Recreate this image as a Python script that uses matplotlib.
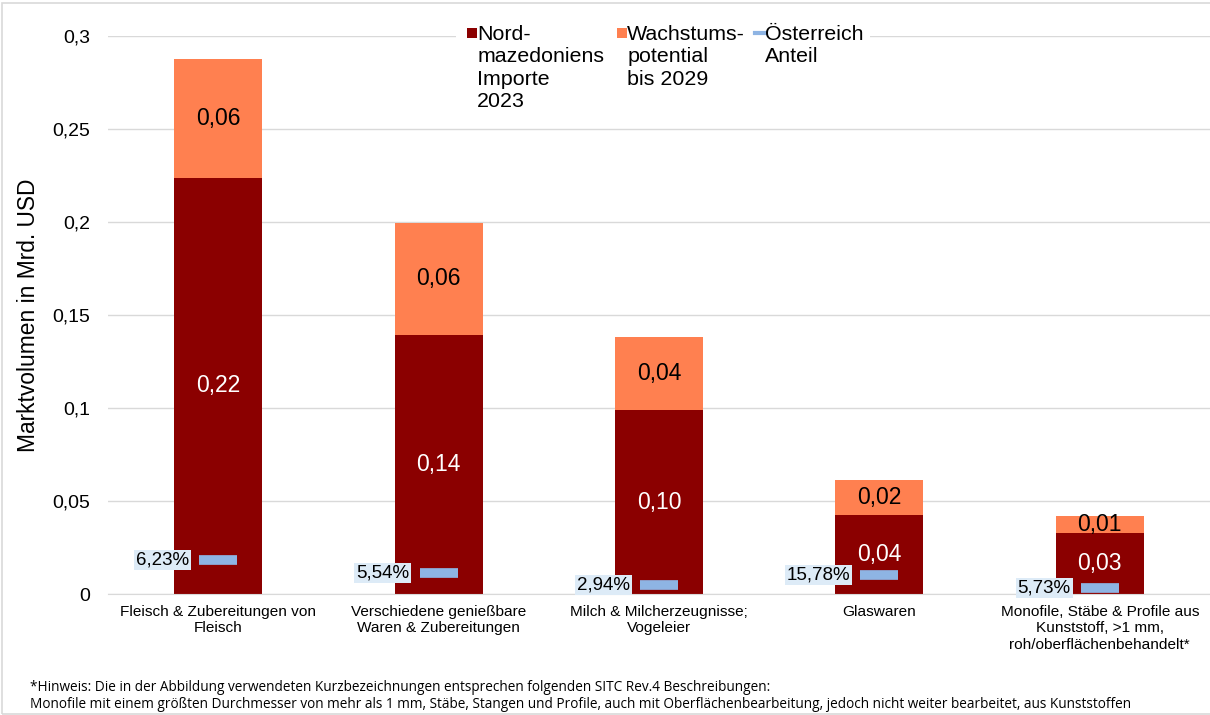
import matplotlib.pyplot as plt
from matplotlib.patches import Rectangle
from matplotlib.lines import Line2D

plt.rcParams['font.family'] = ['Liberation Sans', 'DejaVu Sans']

categories = ['Fleisch & Zubereitungen von\nFleisch',
              'Verschiedene genießbare\nWaren & Zubereitungen',
              'Milch & Milcherzeugnisse;\nVogeleier',
              'Glaswaren',
              'Monofile, Stäbe & Profile aus\nKunststoff, >1 mm,\nroh/oberflächenbehandelt*']
importe = [0.2237, 0.1392, 0.0989, 0.0425, 0.0328]
wachstum = [0.0639, 0.0603, 0.0393, 0.0188, 0.0091]
importe_labels = ['0,22', '0,14', '0,10', '0,04', '0,03']
wachstum_labels = ['0,06', '0,06', '0,04', '0,02', '0,01']
at_anteil = [0.0183, 0.0113, 0.0048, 0.0102, 0.0032]
at_labels = ['6,23%', '5,54%', '2,94%', '15,78%', '5,73%']
yticks = [0, 0.05, 0.1, 0.15, 0.2, 0.25, 0.3]
ytick_labels = ['0', '0,05', '0,1', '0,15', '0,2', '0,25', '0,3']

c_imp = '#8B0000'
c_wachs = '#FF8050'
c_at = '#8EB4E3'

fig = plt.figure(figsize=(12.1, 7.15), dpi=100)
ax = fig.add_axes([0.0893, 0.1692, 0.9107, 0.7805])

x = list(range(len(categories)))
ax.bar(x, importe, width=0.4, color=c_imp, zorder=2)
ax.bar(x, wachstum, width=0.4, bottom=importe, color=c_wachs, zorder=2)

for i in x:
    ax.text(i, importe[i] / 2, importe_labels[i], ha='center', va='center',
            color='white', fontsize=16.5, zorder=4)
    ax.text(i, importe[i] + wachstum[i] / 2, wachstum_labels[i], ha='center',
            va='center', color='black', fontsize=16.5, zorder=4)

ax.plot(x, at_anteil, linestyle='none', marker='_', markersize=28,
        markeredgewidth=7, color=c_at, zorder=3)
for i in x:
    ax.annotate(at_labels[i], (i, at_anteil[i]), xytext=(-21, 0),
                textcoords='offset points', ha='right', va='center',
                fontsize=13.5, zorder=5,
                bbox=dict(boxstyle='square,pad=0.1', fc='#DDEBF7', ec='none'))

ax.set_xlim(-0.5, 4.5)
ax.set_ylim(0, 0.3)
ax.set_yticks(yticks)
ax.set_yticklabels(ytick_labels, fontsize=14)
ax.set_xticks(x)
ax.set_xticklabels(categories, fontsize=11.1)
ax.tick_params(axis='both', length=0, pad=8)
ax.tick_params(axis='y', pad=13)
ax.grid(axis='y', color='#D9D9D9', linewidth=1, zorder=0)
for s in ['top', 'right', 'left']:
    ax.spines[s].set_visible(False)
ax.spines['bottom'].set_color('#D9D9D9')
ax.set_ylabel('Marktvolumen in Mrd. USD', fontsize=16.4, labelpad=9)

# legend drawn by hand so the handles sit on the first text line
leg_font = 15.4
entries = [(0.3860, 'Nord-\nmazedoniens\nImporte\n2023', 'box', c_imp),
           (0.5099, 'Wachstums-\npotential\nbis 2029', 'box', c_wachs),
           (0.6240, 'Österreich\nAnteil', 'line', c_at)]
# white area behind the legend hides the top gridline there
fig.patches.append(Rectangle((0.377, 0.83), 0.342, 0.15, transform=fig.transFigure,
                             fc='white', ec='none', zorder=4))
for xh, lab, kind, col in entries:
    if kind == 'box':
        fig.patches.append(Rectangle((xh, 0.947), 0.0083, 0.014,
                                     transform=fig.transFigure, fc=col,
                                     ec='none', zorder=6))
    else:
        fig.lines.append(Line2D([xh, xh + 0.009], [0.954, 0.954],
                                transform=fig.transFigure, color=col,
                                linewidth=3, zorder=6))
    fig.text(xh + 0.0085, 0.9655, lab, ha='left', va='top', fontsize=leg_font,
             linespacing=1.23, zorder=7)

fig.text(0.025, 0.039, '*Hinweis: Die in der Abbildung verwendeten Kurzbezeichnungen '
         'entsprechen folgenden SITC Rev.4 Beschreibungen:', fontsize=9.8,
         family=['Open Sans', 'DejaVu Sans'], va='center')
fig.text(0.025, 0.014, 'Monofile mit einem größten Durchmesser von mehr als 1 mm, '
         'Stäbe, Stangen und Profile, auch mit Oberflächenbearbeitung, jedoch nicht '
         'weiter bearbeitet, aus Kunststoffen', fontsize=9.8,
         family=['Open Sans', 'DejaVu Sans'], va='center')

fig.patches.append(Rectangle((0.002, 0.001), 1.0, 0.995, transform=fig.transFigure,
                             fc='none', ec='#D9D9D9', linewidth=1.2, zorder=10))

fig.savefig('out.png', dpi=100)
